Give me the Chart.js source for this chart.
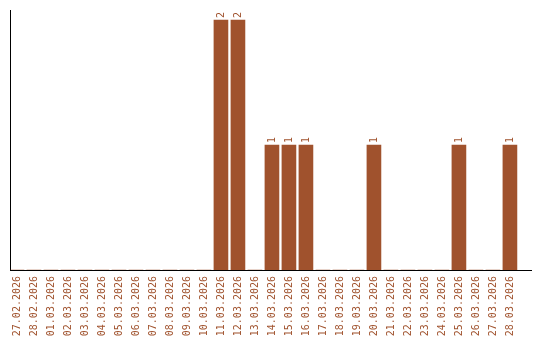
<!DOCTYPE html>
<html>
<head>
<meta charset="utf-8">
<script src="https://cdn.jsdelivr.net/npm/chart.js@4/dist/chart.umd.min.js"></script>
<style>
  html, body { margin: 0; padding: 0; background: #fff; }
  #wrap { width: 540px; height: 340px; }
</style>
</head>
<body>
<div id="wrap"><canvas id="chart1"></canvas></div>
<script>
const dates = [
  '27.02.2026', '28.02.2026', '01.03.2026', '02.03.2026', '03.03.2026',
  '04.03.2026', '05.03.2026', '06.03.2026', '07.03.2026', '08.03.2026',
  '09.03.2026', '10.03.2026', '11.03.2026', '12.03.2026', '13.03.2026',
  '14.03.2026', '15.03.2026', '16.03.2026', '17.03.2026', '18.03.2026',
  '19.03.2026', '20.03.2026', '21.03.2026', '22.03.2026', '23.03.2026',
  '24.03.2026', '25.03.2026', '26.03.2026', '27.03.2026', '28.03.2026'
];
const counts = [
  0, 0, 0, 0, 0,
  0, 0, 0, 0, 0,
  0, 0, 2, 2, 0,
  1, 1, 1, 0, 0,
  0, 1, 0, 0, 0,
  0, 1, 0, 0, 1
];

const BROWN = '#A0522D';

Chart.defaults.font.family = "'DejaVu Sans Mono', monospace";
Chart.defaults.font.size = 10;
Chart.defaults.color = BROWN;

// little labels on top of the bars, turned like the dates
const valueLabels = {
  id: 'valueLabels',
  afterDatasetsDraw(chart) {
    const ctx = chart.ctx;
    const meta = chart.getDatasetMeta(0);
    ctx.save();
    ctx.fillStyle = BROWN;
    ctx.font = "10px 'DejaVu Sans Mono', monospace";
    ctx.textAlign = 'left';
    ctx.textBaseline = 'middle';
    meta.data.forEach((bar, i) => {
      if (!counts[i]) return;
      ctx.save();
      ctx.translate(bar.x, bar.y - 2);
      ctx.rotate(-Math.PI / 2);
      ctx.fillText(String(counts[i]), 0, 0);
      ctx.restore();
    });
    ctx.restore();
  }
};

const points = dates.map((d, i) => ({ x: i, y: counts[i] }));

new Chart(document.querySelector('#chart1'), {
  type: 'bar',
  data: {
    datasets: [{
      data: points,
      backgroundColor: BROWN,
      barThickness: 14
    }]
  },
  options: {
    responsive: true,
    maintainAspectRatio: false,
    animation: false,
    layout: { padding: { left: 10.5, right: 9, top: 10, bottom: 0 } },
    plugins: {
      legend: { display: false },
      tooltip: { enabled: false }
    },
    scales: {
      x: {
        type: 'linear',
        offset: false,
        min: -0.38,
        max: 30.24,
        grid: { display: false, drawTicks: false },
        border: { display: true, color: '#000', width: 1 },
        afterBuildTicks: s => { s.ticks = dates.map((d, i) => ({ value: i })); },
        afterFit: s => { s.height = 70; },
        ticks: {
          autoSkip: false,
          minRotation: 90,
          maxRotation: 90,
          padding: 6,
          color: BROWN,
          callback: v => dates[v]
        }
      },
      y: {
        min: 0,
        max: 2.08,
        grid: { display: false, drawTicks: false },
        border: { display: true, color: '#000', width: 1 },
        ticks: { display: false },
        afterFit: s => { s.width = 0; }
      }
    }
  },
  plugins: [valueLabels]
});
</script>
</body>
</html>
